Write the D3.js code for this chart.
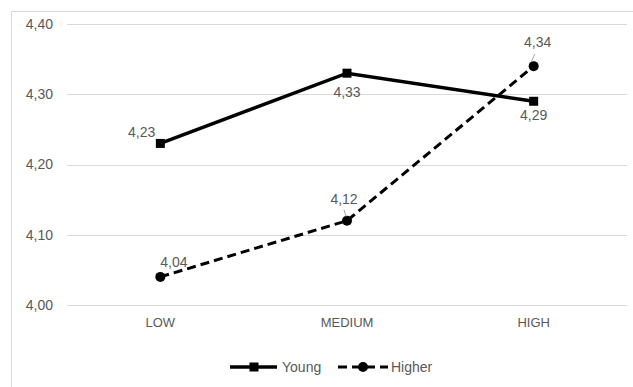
<!DOCTYPE html>
<html><head><meta charset="utf-8">
<script src="https://cdn.jsdelivr.net/npm/d3@7"></script>
<style>body{margin:0;background:#fff}svg{display:block}text{font-family:"Liberation Sans",Arial,sans-serif}</style>
</head><body><svg id="c" width="633" height="387"></svg>
<script>
const categories = ["LOW", "MEDIUM", "HIGH"];
const young = [4.23, 4.33, 4.29];
const higher = [4.04, 4.12, 4.34];
const yTicks = [4.00, 4.10, 4.20, 4.30, 4.40];
const seriesNames = ["Young", "Higher"];

const svg = d3.select("#c");
const fmt = v => v.toFixed(2).replace(".", ",");
const x = d3.scaleBand().domain(categories).range([67, 627]);
const y = d3.scaleLinear().domain([4.0, 4.4]).range([305, 24]);
const cx = c => x(c) + x.bandwidth() / 2;
const grey = "#595959";

// frame
svg.append("line").attr("x1", 11.5).attr("x2", 633).attr("y1", 11.5).attr("y2", 11.5).attr("stroke", "#d9d9d9");
svg.append("line").attr("x1", 11.5).attr("x2", 11.5).attr("y1", 11.5).attr("y2", 387).attr("stroke", "#d9d9d9");

// gridlines
svg.append("g").selectAll("line").data(yTicks).join("line")
  .attr("x1", 67).attr("x2", 627)
  .attr("y1", d => Math.round(y(d)) + 0.5).attr("y2", d => Math.round(y(d)) + 0.5)
  .attr("stroke", "#d9d9d9").attr("stroke-width", 1);

// y axis labels
const yAxis = d3.axisLeft(y).tickValues(yTicks).tickFormat(fmt).tickSize(0).tickPadding(0);
const ga = svg.append("g").attr("transform", "translate(53,0)").call(yAxis);
ga.select(".domain").remove();
ga.selectAll("text").attr("fill", grey).style("font-size", "14px").style("font-family", '"Liberation Sans",Arial,sans-serif');

// x axis labels
const xAxis = d3.axisBottom(x).tickSize(0).tickPadding(0);
const gx = svg.append("g").attr("transform", "translate(0,318)").call(xAxis);
gx.select(".domain").remove();
gx.selectAll("text").attr("fill", grey).style("font-size", "13px").style("font-family", '"Liberation Sans",Arial,sans-serif');

const line = d3.line().x((d, i) => cx(categories[i])).y(d => y(d));

// Higher (dashed)
svg.append("path").datum(higher).attr("d", line).attr("fill", "none")
  .attr("stroke", "#000").attr("stroke-width", 3).attr("stroke-dasharray", "9,5");
svg.append("g").selectAll("circle").data(higher).join("circle")
  .attr("cx", (d, i) => cx(categories[i])).attr("cy", d => y(d)).attr("r", 5).attr("fill", "#000");

// Young (solid)
svg.append("path").datum(young).attr("d", line).attr("fill", "none")
  .attr("stroke", "#000").attr("stroke-width", 3.5);
svg.append("g").selectAll("rect").data(young).join("rect")
  .attr("x", (d, i) => cx(categories[i]) - 4.5).attr("y", d => y(d) - 4.5)
  .attr("width", 9).attr("height", 9).attr("fill", "#000");

// data labels
function label(v, i, dx, dy, anchor) {
  svg.append("text").attr("x", cx(categories[i]) + dx).attr("y", y(v) + dy)
    .attr("text-anchor", anchor).attr("fill", grey).style("font-size", "14px").text(fmt(v));
}
label(young[0], 0, -5, -6, "end");
label(young[1], 1, 0, 24, "middle");
label(young[2], 2, 0, 19, "middle");
label(higher[0], 0, 0, -10, "start");
label(higher[1], 1, -3, -17, "middle");
label(higher[2], 2, 4, -19, "middle");
// leader lines
const lead = (i, v, x1, y1, x2, y2) => svg.append("line")
  .attr("x1", cx(categories[i]) + x1).attr("y1", y(v) + y1)
  .attr("x2", cx(categories[i]) + x2).attr("y2", y(v) + y2)
  .attr("stroke", "#a6a6a6").attr("stroke-width", 1);
lead(1, higher[1], -3, -11, -1, -4);
lead(2, higher[2], 1, -12, -2, -5);

// legend
const lg = svg.append("g");
const ly = 367;
lg.append("line").attr("x1", 230).attr("x2", 277).attr("y1", ly).attr("y2", ly).attr("stroke", "#000").attr("stroke-width", 3.5);
lg.append("rect").attr("x", 249.5).attr("y", ly - 4.5).attr("width", 9).attr("height", 9).attr("fill", "#000");
lg.append("text").attr("x", 282).attr("y", ly + 5).attr("fill", grey).style("font-size", "14px").text(seriesNames[0]);
lg.append("line").attr("x1", 338).attr("x2", 388).attr("y1", ly).attr("y2", ly).attr("stroke", "#000").attr("stroke-width", 3).attr("stroke-dasharray", "9,5");
lg.append("circle").attr("cx", 363).attr("cy", ly).attr("r", 5).attr("fill", "#000");
lg.append("text").attr("x", 391).attr("y", ly + 5).attr("fill", grey).style("font-size", "14px").text(seriesNames[1]);
</script></body></html>
